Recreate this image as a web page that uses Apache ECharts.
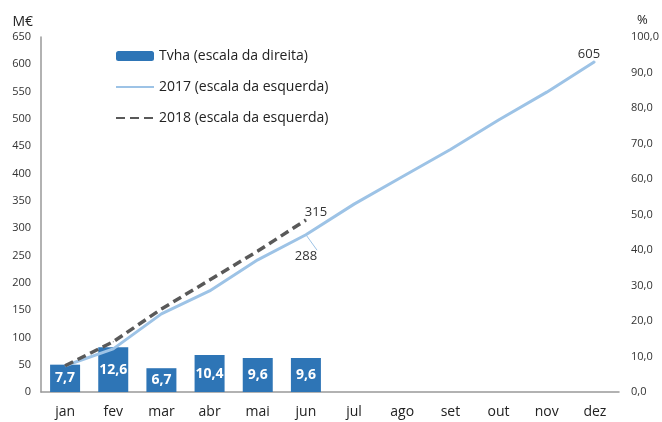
<!DOCTYPE html>
<html>
<head>
<meta charset="utf-8">
<script src="https://cdn.jsdelivr.net/npm/echarts@6/dist/echarts.min.js"></script>
<style>
  html, body { margin: 0; padding: 0; background: #fff; }
  #chart { width: 662px; height: 422px; }
</style>
</head>
<body>
<div id="chart"></div>
<script>
var months = ['jan', 'fev', 'mar', 'abr', 'mai', 'jun', 'jul', 'ago', 'set', 'out', 'nov', 'dez'];
var tvha = [7.7, 12.6, 6.7, 10.4, 9.6, 9.6];
var y2017 = [48, 79, 143, 185, 242, 288, 344, 394, 444, 498, 549, 605];
var y2018 = [48, 92, 152, 205, 258, 315];

var FONT = '"Open Sans", "Noto Sans", sans-serif';
var chart = echarts.init(document.getElementById('chart'));

var fmtComma = function (v) { return v.toFixed(1).replace('.', ','); };

var d2017 = y2017.map(function (v, i) {
    if (i === 5) {
        return {
            value: v,
            label: { show: true, position: 'bottom', distance: 15 },
            labelLine: { show: true, length2: 0, lineStyle: { color: '#9DC3E6', width: 1 } }
        };
    }
    if (i === 11) {
        return { value: v, label: { show: true, position: 'top', offset: [-6, 5] } };
    }
    return v;
});
var d2018 = y2018.map(function (v, i) {
    if (i === 5) return { value: v, label: { show: true, position: 'top', offset: [10, 4] } };
    return v;
});

var option = {
    animation: false,
    textStyle: { fontFamily: FONT },
    grid: { left: 41, right: 42, top: 37, bottom: 30 },
    legend: {
        orient: 'vertical',
        left: 110,
        top: 44,
        itemWidth: 38,
        itemHeight: 10,
        itemGap: 17,
        textStyle: { fontSize: 14, color: '#222', fontFamily: FONT },
        data: [
            { name: 'Tvha (escala da direita)' },
            { name: '2017 (escala da esquerda)', itemStyle: { opacity: 0 } },
            { name: '2018 (escala da esquerda)', itemStyle: { opacity: 0 } }
        ]
    },
    xAxis: {
        type: 'category',
        data: months,
        axisLine: { lineStyle: { color: '#999', width: 1.5 } },
        axisTick: { show: false },
        axisLabel: { color: '#222', fontSize: 14, margin: 13 }
    },
    yAxis: [
        {
            type: 'value',
            name: 'M€',
            nameLocation: 'end',
            nameGap: 8,
            nameTextStyle: { color: '#222', fontSize: 14, align: 'right', padding: [0, 8, 0, 0] },
            min: 0, max: 650, interval: 50,
            axisLine: { show: true, lineStyle: { color: '#999', width: 1.5 } },
            axisTick: { show: false },
            splitLine: { show: false },
            axisLabel: { color: '#333', fontSize: 11, margin: 10 }
        },
        {
            type: 'value',
            name: '%',
            nameLocation: 'end',
            nameGap: 10,
            nameTextStyle: { color: '#222', fontSize: 13, align: 'left', padding: [0, 0, 0, 18] },
            min: 0, max: 100, interval: 10,
            axisLine: { show: false },
            axisTick: { show: false },
            splitLine: { show: false },
            axisLabel: { color: '#333', fontSize: 11, margin: 12, formatter: fmtComma }
        }
    ],
    series: [
        {
            name: 'Tvha (escala da direita)',
            type: 'bar',
            yAxisIndex: 1,
            data: tvha,
            barWidth: 30,
            itemStyle: { color: '#2E75B6' },
            label: {
                show: true,
                position: 'inside',
                color: '#fff',
                fontWeight: 'bold',
                fontSize: 14,
                formatter: function (p) { return fmtComma(p.value); }
            },
            z: 1
        },
        {
            name: '2017 (escala da esquerda)',
            type: 'line',
            data: d2017,
            symbol: 'circle',
            symbolSize: 1,
            lineStyle: { color: '#9DC3E6', width: 3 },
            itemStyle: { color: '#9DC3E6' },
            label: { color: '#333', fontSize: 13 },
            z: 3
        },
        {
            name: '2018 (escala da esquerda)',
            type: 'line',
            data: d2018,
            symbol: 'circle',
            symbolSize: 1,
            lineStyle: { color: '#595959', width: 3.5, type: [9, 5] },
            itemStyle: { color: '#595959' },
            label: { color: '#333', fontSize: 13 },
            z: 4
        }
    ]
};

chart.setOption(option);
</script>
</body>
</html>
